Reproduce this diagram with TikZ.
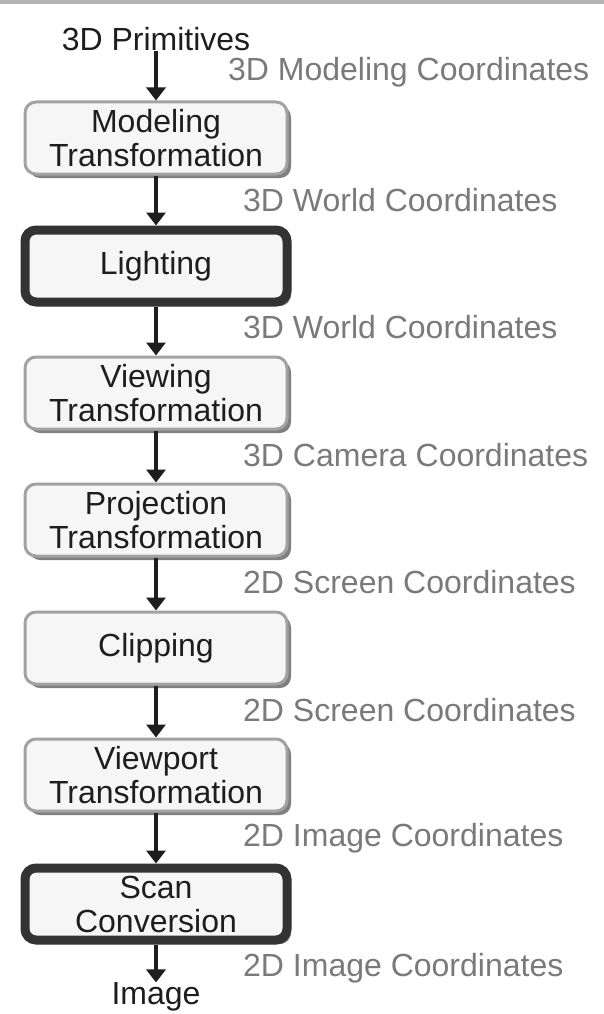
\documentclass[tikz,border=0pt]{standalone}
\usepackage{fontspec}
\setmainfont{Liberation Sans}
\usetikzlibrary{arrows.meta,shadows}
\definecolor{boxfill}{HTML}{F6F6F6}
\definecolor{boxline}{HTML}{A2A2A2}
\definecolor{thickline}{HTML}{333333}
\definecolor{labelgray}{HTML}{7A7A7A}
\definecolor{txt}{HTML}{1E1E1E}
\definecolor{barcol}{HTML}{B4B4B4}
\tikzset{
  stage/.style={draw=boxline, line width=3pt, fill=boxfill, rounded corners=11pt,
    minimum width=262pt, minimum height=72pt, inner sep=0pt, align=center,
    text=txt, font=\fontsize{32}{34}\selectfont,
    drop shadow={shadow xshift=4pt, shadow yshift=-4pt, fill=black!50, opacity=1}},
  heavy/.style={stage, draw=thickline, line width=9pt},
  coordlabel/.style={anchor=west, text=labelgray, inner sep=0pt, font=\fontsize{32}{34}\selectfont},
  endtext/.style={text=txt, inner sep=0pt, font=\fontsize{32}{34}\selectfont},
  arr/.style={draw=txt, line width=3.5pt, -{Triangle[width=19pt,length=13pt]}}
}
\begin{document}
\begin{tikzpicture}[x=1pt,y=-1pt]
\useasboundingbox (0,0) rectangle (604,1014);
\fill[white] (0,0) rectangle (604,1014);
\fill[barcol] (0,0) rectangle (604,4);
\node[endtext] (prim) at (156,39) {3D Primitives};
\node[stage] (m1) at (156,138) {Modeling\\Transformation};
\node[heavy] (m2) at (156,266) {Lighting};
\node[stage] (m3) at (156,393) {Viewing\\Transformation};
\node[stage] (m4) at (156,520) {Projection\\Transformation};
\node[stage] (m5) at (156,648) {Clipping};
\node[stage] (m6) at (156,775) {Viewport\\Transformation};
\node[heavy] (m7) at (156,904) {Scan\\Conversion};
\node[endtext] (img) at (156,997) {Image};
\draw[arr] (prim) -- (m1);
\draw[arr] (m1) -- (m2);
\draw[arr] (m2) -- (m3);
\draw[arr] (m3) -- (m4);
\draw[arr] (m4) -- (m5);
\draw[arr] (m5) -- (m6);
\draw[arr] (m6) -- (m7);
\draw[arr] (m7) -- (img);
\node[coordlabel] (c1) at (228,72) {3D Modeling Coordinates};
\node[coordlabel] (c2) at (243,200) {3D World Coordinates};
\node[coordlabel] (c3) at (243,327) {3D World Coordinates};
\node[coordlabel] (c4) at (243,455) {3D Camera Coordinates};
\node[coordlabel] (c5) at (243,582) {2D Screen Coordinates};
\node[coordlabel] (c6) at (243,710) {2D Screen Coordinates};
\node[coordlabel] (c7) at (243,838) {2D Image Coordinates};
\node[coordlabel] (c8) at (243,968) {2D Image Coordinates};
\end{tikzpicture}
\end{document}
